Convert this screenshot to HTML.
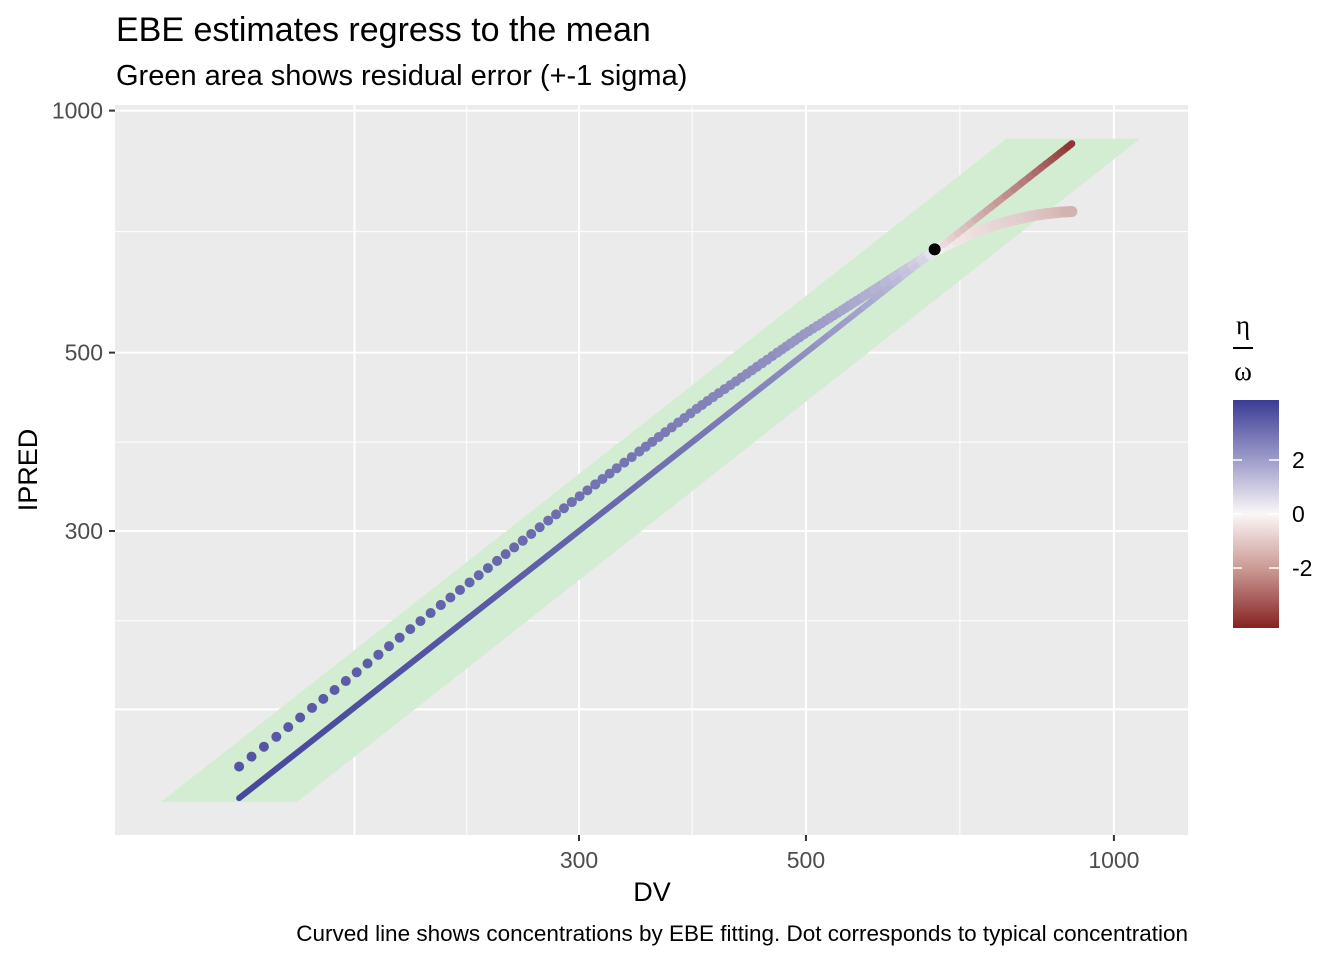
<!DOCTYPE html>
<html><head><meta charset="utf-8"><style>
body{margin:0;background:#fff;}
svg{display:block;font-family:"Liberation Sans",Arial,sans-serif;}
</style></head><body>
<svg id="chart" width="1344" height="960" viewBox="0 0 1344 960">
<defs>
<linearGradient id="legGrad" x1="0" y1="0" x2="0" y2="1">
<stop offset="0" stop-color="#3B3B96"/>
<stop offset="0.25" stop-color="#9A98C8"/>
<stop offset="0.5" stop-color="#FAF7F7"/>
<stop offset="0.75" stop-color="#C99590"/>
<stop offset="1" stop-color="#862222"/>
</linearGradient>
</defs>
<rect x="0" y="0" width="1344" height="960" fill="#fff"/>
<text x="116" y="41" font-size="34" fill="#000">EBE estimates regress to the mean</text>
<text x="116" y="85" font-size="29" fill="#000">Green area shows residual error (+-1 sigma)</text>
<rect x="115" y="105" width="1073" height="730" fill="#EBEBEB"/>
<g id="grid"></g>
<g id="band"></g>
<g id="curve"></g>
<g id="diag"></g>
<g id="typ"></g>
<g id="axes"></g>
<text x="652" y="901" font-size="27" text-anchor="middle" fill="#000">DV</text>
<text transform="translate(37,470) rotate(-90)" font-size="27" text-anchor="middle" fill="#000">IPRED</text>
<text x="1188" y="941" font-size="22.5" text-anchor="end" fill="#000">Curved line shows concentrations by EBE fitting. Dot corresponds to typical concentration</text>
<g>
<text x="1243" y="334" font-size="27" text-anchor="middle" font-family="Liberation Serif,serif">η</text>
<line x1="1233" y1="348" x2="1253" y2="348" stroke="#000" stroke-width="2"/>
<text x="1243" y="380" font-size="27" text-anchor="middle" font-family="Liberation Serif,serif">ω</text>
<rect x="1233" y="400" width="46" height="228" fill="url(#legGrad)"/>
<g id="legticks"></g>
</g>
</svg>
<script>
const eta = [3.7,3.6,3.5,3.4,3.3,3.2,3.1,3.0,2.9,2.8,2.7,2.6,2.5,2.4,2.3,2.2,2.1,2.0,1.9,1.8,1.7,1.6,1.5,1.4,1.3,1.2,1.1,1.0,0.9,0.8,0.7,0.6,0.5,0.4,0.3,0.2,0.1,0,-0.1,-0.2,-0.3,-0.4,-0.5,-0.6,-0.7,-0.8,-0.9,-1.0,-1.2,-1.4,-1.6,-1.8,-2.0,-2.2,-2.4,-2.6,-2.8,-3.0,-3.2,-3.4,-3.7];
const dv = [139.6,151.8,164.5,177.5,191.0,205.2,219.8,234.5,249.5,264.3,279.9,295.2,311.2,326.6,343.6,359.0,375.1,390.9,405.6,421.8,437.6,453.0,468.9,483.1,497.8,513.0,527.3,542.1,556.0,570.2,583.6,597.2,609.6,622.4,635.4,647.3,658.7,670,681.1,691.8,702.4,712.5,722.4,731.9,741.3,750.3,758.9,767.4,783.6,798.4,812.4,825.4,837.5,848.6,859.0,868.5,877.6,885.9,893.4,900.5,909.7];
const ipred = [152.8,166.4,180.8,195.2,210.5,226.5,242.7,258.9,275.4,291.8,309.1,325.9,342.8,359.1,376.7,392.7,409.3,425.6,440.2,455.6,470.5,485.0,500.1,513.4,527.0,539.9,552.1,564.5,576.3,588.0,599.2,610.5,620.8,631.2,641.9,651.6,660.8,670,677.3,684.0,690.3,695.9,701.1,705.9,710.2,714.2,717.6,720.9,726.6,731.3,735.1,738.2,740.7,742.8,744.3,745.5,746.6,747.6,748.1,748.5,749.1];
const typicalDV = [668];
const typicalIPRED = [672];
const bandY = [138, 923];
const bandLo = [117, 785];
const bandHi = [159, 1061];
const xTicks = [300, 500, 1000];
const yTicks = [300, 500, 1000];
const xMinor = [181, 233, 387, 707];
const yMinor = [180, 232, 387, 707];
const legendTicks = [2, 0, -2];

const NS = "http://www.w3.org/2000/svg";
const L = Math.log10;
function xs(v){ return 579 + 1023*(L(v)-L(300)); }
function ys(v){ return 531 - 804*(L(v)-L(300)); }
function mk(tag, attrs, parent){ const e=document.createElementNS(NS,tag); for(const k in attrs) e.setAttribute(k,attrs[k]); parent.appendChild(e); return e; }
function mix(a,b,t){ return a.map((v,i)=>Math.round(v+(b[i]-v)*t)); }
const HI=[59,59,150], MID=[250,247,247], LO=[134,34,34];
function col(e){ let t=Math.max(-1,Math.min(1,e/4.2)); const c = t>=0 ? mix(MID,HI,Math.pow(t,0.5)) : mix(MID,LO,Math.pow(-t,0.6)); return `rgb(${c[0]},${c[1]},${c[2]})`; }

const grid=document.getElementById('grid');
xMinor.forEach(v=>{ const l=mk('line',{x1:xs(v),x2:xs(v),y1:105,y2:835,stroke:'#fff','stroke-width':(v===181?2:1)},grid);

 });
yMinor.forEach(v=>{ const l=mk('line',{x1:115,x2:1188,y1:ys(v),y2:ys(v),stroke:'#fff','stroke-width':(v===180?2:1)},grid);

 });
const axes=document.getElementById('axes');
xTicks.forEach(v=>{ const l=mk('line',{x1:xs(v),x2:xs(v),y1:105,y2:835,stroke:'#fff','stroke-width':2},grid);


const t=mk('line',{x1:xs(v),x2:xs(v),y1:835,y2:841,stroke:'#333','stroke-width':2},axes);


const tx=mk('text',{x:xs(v),y:868,'font-size':23,'text-anchor':'middle',fill:'#4D4D4D'},axes); tx.textContent=v;

 });
yTicks.forEach(v=>{ const l=mk('line',{x1:115,x2:1188,y1:ys(v),y2:ys(v),stroke:'#fff','stroke-width':2},grid);


const t=mk('line',{x1:109,x2:115,y1:ys(v),y2:ys(v),stroke:'#333','stroke-width':2},axes);


const tx=mk('text',{x:103,y:ys(v)+8,'font-size':23,'text-anchor':'end',fill:'#4D4D4D'},axes); tx.textContent=v;

 });

const band=document.getElementById('band');
const pts=[[bandLo[0],bandY[0]],[bandHi[0],bandY[0]],[bandHi[1],bandY[1]],[bandLo[1],bandY[1]]].map(p=>xs(p[0])+','+ys(p[1])).join(' ');
const bp=mk('polygon',{points:pts,fill:'#D3EDD3'},band);



const curve=document.getElementById('curve'), diag=document.getElementById('diag');
for(let i=0;i<eta.length-1;i++){
  const em=(eta[i]+eta[i+1])/2;
  const c=col(em>0?em*0.85:em*0.18);
  const x1=xs(dv[i]),y1=ys(ipred[i]),x2=xs(dv[i+1]),y2=ys(ipred[i+1]);
  const len=Math.hypot(x2-x1,y2-y1);
  const n=Math.max(1,Math.round(Math.abs(eta[i]-eta[i+1])/0.033));
  const gap=len/n;
  const attrs={x1:x1,y1:y1,x2:x2,y2:y2,stroke:c,'stroke-width':(em>0?10:11),'stroke-linecap':'round'};
  if(gap>4) attrs['stroke-dasharray']='0 '+gap.toFixed(2);
  const s=mk('line',attrs,curve);
  
  
  const d=mk('line',{x1:xs(dv[i]),y1:ys(dv[i]),x2:xs(dv[i+1]),y2:ys(dv[i+1]),stroke:col(em),'stroke-width':(eta[i]<0?7:6),'stroke-linecap':'round'},diag);
  
  
}
const typ=document.getElementById('typ');
const dot=mk('circle',{cx:xs(typicalDV[0]),cy:ys(typicalIPRED[0]),r:6,fill:'#000'},typ);



const lt=document.getElementById('legticks');
legendTicks.forEach(v=>{ const y=514-27*v;
  const a=mk('line',{x1:1233,x2:1242,y1:y,y2:y,stroke:'#fff','stroke-width':1.5},lt);
  
  
  const b=mk('line',{x1:1269,x2:1279,y1:y,y2:y,stroke:'#fff','stroke-width':1.5},lt);
  
  
  const t=mk('text',{x:1292,y:y+8,'font-size':23,fill:'#000'},lt); t.textContent=v;
  
   });
</script>
</body></html>
